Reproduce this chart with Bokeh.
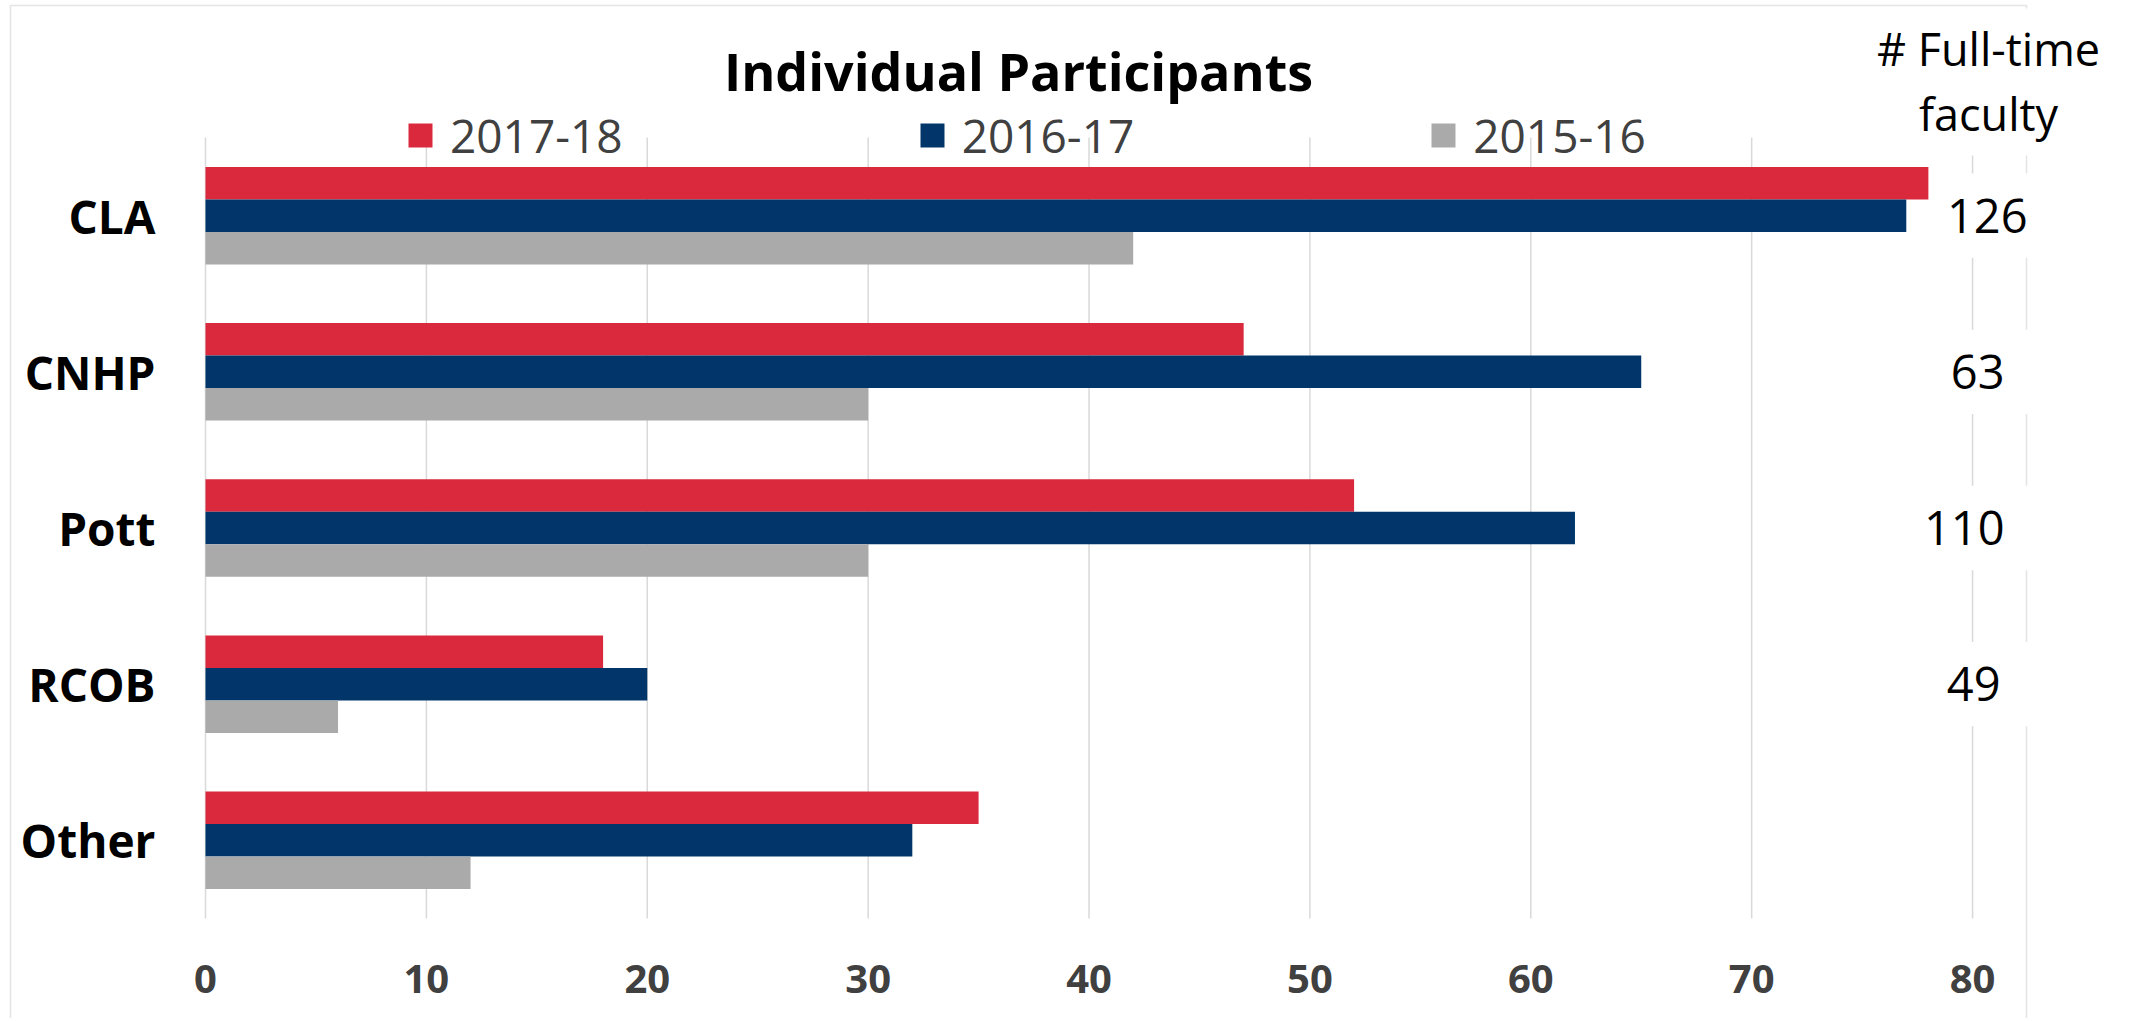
from bokeh.plotting import figure
from bokeh.models import (ColumnDataSource, Range1d, FixedTicker,
                          Legend, LegendItem, BoxAnnotation, Label)
from bokeh.transform import dodge
from bokeh.core.properties import value
from bokeh.embed import file_html
from bokeh.resources import INLINE

# ---------------- data ----------------
categories = ["CLA", "CNHP", "Pott", "RCOB", "Other"]
participants_2017_18 = [78, 47, 52, 18, 35]
participants_2016_17 = [77, 65, 62, 20, 32]
participants_2015_16 = [42, 30, 30, 6, 12]
full_time_faculty = [126, 63, 110, 49, None]
series_labels = ["2017-18", "2016-17", "2015-16"]
x_ticks = [0, 10, 20, 30, 40, 50, 60, 70, 80]
chart_title = "Individual Participants"
faculty_header = ["# Full-time", "faculty"]

# ---------------- style ----------------
RED = "#DA293C"
NAVY = "#02366A"
GRAY = "#AAAAAA"
FONT = "Open Sans"
W, H = 2128, 1018

# category positions (top first)
n = len(categories)
ypos = [n - 1 - i for i in range(n)]

p = figure(width=W, height=H, output_backend="svg", toolbar_location=None,
           x_range=Range1d(-9.281, 87.06), y_range=Range1d(-1.141, 5.378),
           min_border_left=0, min_border_right=0,
           min_border_top=0, min_border_bottom=0)
p.outline_line_color = None
p.background_fill_color = "white"
p.border_fill_color = "white"

# outer chart border
border = BoxAnnotation(left=10, right=2026, top=5, bottom=1040,
                       left_units="canvas", right_units="canvas",
                       top_units="canvas", bottom_units="canvas",
                       fill_alpha=0, fill_color=None,
                       line_color="#A6A6A6", line_width=1.5, level="underlay")
p.add_layout(border)

# vertical grid lines over the category band
p.segment(x0=x_ticks, x1=x_ticks, y0=[min(ypos) - 0.5] * len(x_ticks),
          y1=[max(ypos) + 0.5] * len(x_ticks), line_color="#D9D9D9", line_width=1.5)

src = ColumnDataSource(dict(y=ypos, cat=categories, a=participants_2017_18,
                            b=participants_2016_17, c=participants_2015_16))
BH = 0.208
r1 = p.hbar(y=dodge("y", BH), left=0, right="a", height=BH,
            fill_color=RED, line_color=None, source=src)
r2 = p.hbar(y=dodge("y", 0), left=0, right="b", height=BH,
            fill_color=NAVY, line_color=None, source=src)
r3 = p.hbar(y=dodge("y", -BH), left=0, right="c", height=BH,
            fill_color=GRAY, line_color=None, source=src)

# faculty column (white boxes hide grid/border behind the numbers)
fac_y = [y for y, f in zip(ypos, full_time_faculty) if f is not None]
fac_txt = [str(f) for f in full_time_faculty if f is not None]
fac_off = [23, 0, 0, -4][:len(fac_y)]
fsrc = ColumnDataSource(dict(y=fac_y, txt=fac_txt, xo=fac_off))
p.hbar(y="y", left=78.4, right=83.2, height=0.54, fill_color="white",
       line_color=None, source=fsrc)
p.text(x=81.45, y="y", text="txt", x_offset="xo", source=fsrc,
       text_align="right", text_baseline="middle",
       text_font=value(FONT), text_font_size="47px", text_color="black")

# axes drawn inside the frame at fixed locations
p.grid.visible = False
p.xaxis.ticker = FixedTicker(ticks=x_ticks)
p.xaxis.fixed_location = min(ypos) - 0.5
p.xaxis.axis_line_color = None
p.xaxis.major_tick_line_color = None
p.xaxis.minor_tick_line_color = None
p.xaxis.major_tick_out = 0
p.xaxis.major_tick_in = 0
p.xaxis.major_label_standoff = 47
p.xaxis.major_label_text_font = FONT
p.xaxis.major_label_text_font_style = "bold"
p.xaxis.major_label_text_font_size = "40px"
p.xaxis.major_label_text_color = "#404040"

p.yaxis.ticker = FixedTicker(ticks=ypos)
p.yaxis.major_label_overrides = {y: c for y, c in zip(ypos, categories)}
p.yaxis.fixed_location = 0
p.yaxis.axis_line_color = None
p.yaxis.major_tick_line_color = None
p.yaxis.minor_tick_line_color = None
p.yaxis.major_tick_out = 0
p.yaxis.major_tick_in = 0
p.yaxis.major_label_standoff = 50
p.yaxis.major_label_text_font = FONT
p.yaxis.major_label_text_font_style = "bold"
p.yaxis.major_label_text_font_size = "46px"
p.yaxis.major_label_text_color = "black"

# title
p.add_layout(Label(x=1018, y=70, x_units="canvas", y_units="canvas",
                   text=chart_title, text_align="center", text_baseline="alphabetic",
                   text_font=FONT, text_font_style="bold", text_font_size="52px",
                   text_color="black"))

# legend
legend = Legend(items=[LegendItem(label=s, renderers=[r])
                       for s, r in zip(series_labels, [r1, r2, r3])],
                orientation="horizontal", location=(405, 852),
                padding=0, margin=0, spacing=294,
                glyph_width=30, glyph_height=30, label_standoff=15,
                label_text_font=FONT, label_text_font_size="46px",
                label_text_color="#404040",
                border_line_color=None, background_fill_alpha=0)
p.add_layout(legend, "center")

# white box behind the faculty header
p.add_layout(BoxAnnotation(left=1860, right=2040, top=8, bottom=155,
                           left_units="canvas", right_units="canvas",
                           top_units="canvas", bottom_units="canvas",
                           fill_color="white", fill_alpha=1, line_color=None))

# faculty header
for txt, yb in zip(faculty_header, [48, 113]):
    p.add_layout(Label(x=1988, y=yb, x_units="canvas", y_units="canvas",
                       text=txt, text_align="center", text_baseline="alphabetic",
                       text_font=FONT, text_font_size="45px", text_color="black"))

open("out.html", "w").write(file_html(p, INLINE))
